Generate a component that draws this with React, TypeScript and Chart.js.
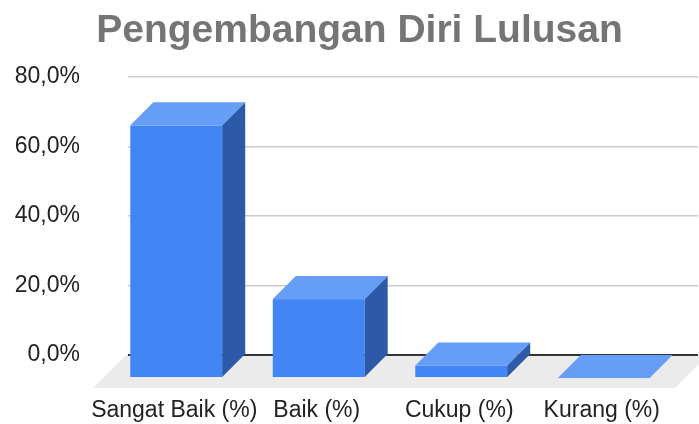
import { useEffect, useRef } from "react";
import { Chart, registerables } from "chart.js";
Chart.register(...registerables);

const titleText = "Pengembangan Diri Lulusan";
const categories = ["Sangat Baik (%)", "Baik (%)", "Cukup (%)", "Kurang (%)"];
const values = [72.7, 22.7, 3.6, 0];
const yMin = 0;
const yMax = 80;
const yStep = 20;

const DEPTH = 23;
const FLOOR_DEPTH = 33;
const FONT = '"Liberation Sans", Arial, sans-serif';

const bars3d = {
  id: "bars3d",
  beforeDraw(chart: any) {
    const { ctx, chartArea: a } = chart;
    ctx.save();
    ctx.fillStyle = "#ebebeb";
    ctx.beginPath();
    ctx.moveTo(a.left - 2, a.bottom);
    ctx.lineTo(a.right + 10, a.bottom);
    ctx.lineTo(a.right + 10 - FLOOR_DEPTH, a.bottom + FLOOR_DEPTH);
    ctx.lineTo(a.left - 2 - FLOOR_DEPTH, a.bottom + FLOOR_DEPTH);
    ctx.closePath();
    ctx.fill();
    ctx.font = `bold 39px ${FONT}`;
    ctx.fillStyle = "#757575";
    ctx.textAlign = "center";
    ctx.textBaseline = "alphabetic";
    ctx.fillText(titleText, 359.5, 42);
    ctx.restore();
  },
  afterDatasetsDraw(chart: any) {
    const { ctx } = chart;
    const meta = chart.getDatasetMeta(0);
    ctx.save();
    meta.data.forEach((el: any) => {
      const { x, y, base, width } = el.getProps(["x", "y", "base", "width"], true);
      const x0 = x - width / 2;
      const x1 = x + width / 2;
      const d = DEPTH;
      if (base - y > 0) {
        ctx.fillStyle = "#4285f4";
        ctx.fillRect(x0 - d, y + d, width, base - y);
        ctx.fillStyle = "#2c5aa9";
        ctx.beginPath();
        ctx.moveTo(x1 - d, y + d);
        ctx.lineTo(x1, y);
        ctx.lineTo(x1, base);
        ctx.lineTo(x1 - d, base + d);
        ctx.closePath();
        ctx.fill();
      }
      ctx.fillStyle = "#669df6";
      ctx.beginPath();
      ctx.moveTo(x0 - d, y + d);
      ctx.lineTo(x0, y);
      ctx.lineTo(x1, y);
      ctx.lineTo(x1 - d, y + d);
      ctx.closePath();
      ctx.fill();
    });
    ctx.restore();
  },
};

export default function App() {
  const ref = useRef<HTMLCanvasElement>(null);
  useEffect(() => {
    if (!ref.current) return;
    const chart = new Chart(ref.current, {
      type: "bar",
      data: {
        labels: categories,
        datasets: [
          {
            data: values,
            backgroundColor: "rgba(0,0,0,0)",
            borderWidth: 0,
            barPercentage: 0.645,
            categoryPercentage: 1,
          },
        ],
      },
      options: {
        responsive: false,
        animation: false,
        layout: { padding: { top: 77, right: 1, left: 0, bottom: 0 } },
        plugins: {
          legend: { display: false },
          title: { display: false },
          tooltip: { enabled: false },
        },
        scales: {
          x: {
            grid: { display: false, drawTicks: false },
            border: { display: false },
            ticks: {
              color: "#222",
              font: { family: FONT, size: 23 },
              padding: 42,
              labelOffset: -25,
              maxRotation: 0,
              autoSkip: false,
            },
            afterFit: (s: any) => {
              s.height = 69;
              s.paddingLeft = 0;
              s.paddingRight = 0;
            },
          },
          y: {
            min: yMin,
            max: yMax,
            grid: {
              drawTicks: false,
              color: (c: any) => (c.tick && c.tick.value === 0 ? "#333333" : "#cccccc"),
              lineWidth: (c: any) => (c.tick && c.tick.value === 0 ? 2 : 1.5),
            },
            border: { display: false },
            ticks: {
              stepSize: yStep,
              color: "#222",
              font: { family: FONT, size: 23 },
              padding: 48,
              callback: (v: any) => Number(v).toFixed(1).replace(".", ",") + "%",
            },
            afterFit: (s: any) => {
              s.width = 128;
            },
          },
        },
      },
      plugins: [bars3d],
    });
    return () => chart.destroy();
  }, []);
  return (
    <div style={{ position: "absolute", left: 0, top: 0, width: 699, height: 424, background: "#fff" }}>
      <canvas ref={ref} width={699} height={424} />
    </div>
  );
}
